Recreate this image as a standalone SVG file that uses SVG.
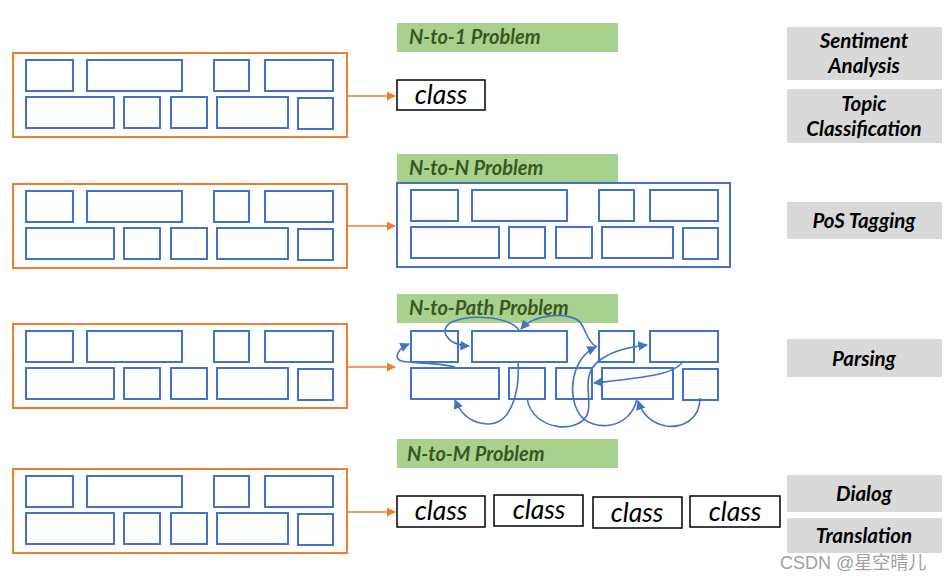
<svg xmlns="http://www.w3.org/2000/svg" xmlns:xlink="http://www.w3.org/1999/xlink" width="947" height="580" viewBox="0 0 947 580">
<style>
.orange{fill:none;stroke:#ED7D31;stroke-width:2}
.blue{fill:none;stroke:#4472C4;stroke-width:2}
.tok{fill:#fff;stroke:#4472C4;stroke-width:2}
.green{fill:#A9D18E}
.gtxt{font-family:Lato,"Open Sans",sans-serif;font-weight:700;font-style:italic;font-size:20px;fill:#385723}
.gray{fill:#D9D9D9}
.task{font-family:Lato,"Open Sans",sans-serif;font-weight:700;font-style:italic;font-size:20.5px;fill:#000;text-anchor:middle}
.cls{fill:#fff;stroke:#000;stroke-width:1.5}
.ctxt{font-family:Lato,"Open Sans",sans-serif;font-style:italic;font-size:26.5px;fill:#000;text-anchor:middle}
.oarr{fill:none;stroke:#ED7D31;stroke-width:1.5;marker-end:url(#oh)}
.barr{fill:none;stroke:#4472C4;stroke-width:1.6;marker-end:url(#bh)}
.wm{font-family:"Liberation Sans","Noto Sans CJK SC",sans-serif;font-size:18px;fill:#a0a0a0}
</style>
<defs>
<marker id="oh" viewBox="0 0 10 10" refX="9" refY="5" markerWidth="6" markerHeight="6" markerUnits="strokeWidth" orient="auto"><path d="M0,0 L10,5 L0,10 z" fill="#ED7D31"/></marker>
<marker id="bh" viewBox="0 0 10 10" refX="9" refY="5" markerWidth="6" markerHeight="6" markerUnits="strokeWidth" orient="auto"><path d="M0,0 L10,5 L0,10 z" fill="#4472C4"/></marker>
<g id="toks">
<rect class="tok" x="26" y="60" width="47" height="31"/>
<rect class="tok" x="87" y="60" width="95" height="31"/>
<rect class="tok" x="214" y="60" width="35" height="31"/>
<rect class="tok" x="265" y="60" width="68" height="31"/>
<rect class="tok" x="26" y="97" width="88" height="31"/>
<rect class="tok" x="124" y="97" width="36" height="31"/>
<rect class="tok" x="171" y="97" width="36" height="31"/>
<rect class="tok" x="217" y="97" width="71" height="31"/>
<rect class="tok" x="298" y="98" width="35" height="31"/>
</g>
</defs>
<rect width="947" height="580" fill="#fff"/>

<g id="input1"><rect class="orange" x="13" y="53" width="334" height="84"/><use xlink:href="#toks"/></g>
<g id="input2" transform="translate(0,131)"><rect class="orange" x="13" y="53" width="334" height="84"/><use xlink:href="#toks"/></g>
<g id="input3" transform="translate(0,271)"><rect class="orange" x="13" y="53" width="334" height="84"/><use xlink:href="#toks"/></g>
<g id="input4" transform="translate(0,416)"><rect class="orange" x="13" y="53" width="334" height="84"/><use xlink:href="#toks"/></g>

<g id="label-n1"><rect class="green" x="397" y="23" width="221" height="29"/><text class="gtxt" x="409" y="44">N-to-1 Problem</text></g>
<g id="label-nn"><rect class="green" x="397" y="154" width="221" height="29"/><text class="gtxt" x="409" y="175">N-to-N Problem</text></g>
<g id="label-np"><rect class="green" x="397" y="294" width="221" height="29"/><text class="gtxt" x="409" y="315">N-to-Path Problem</text></g>
<g id="label-nm"><rect class="green" x="397" y="439" width="221" height="29"/><text class="gtxt" x="407" y="461">N-to-M Problem</text></g>

<g id="out1"><rect class="cls" x="397" y="80" width="88" height="30"/><text class="ctxt" x="441" y="104">class</text></g>

<g id="out2"><rect class="blue" x="397" y="183" width="333" height="84"/><use xlink:href="#toks" transform="translate(385,130)"/></g>

<g id="out3"><use xlink:href="#toks" transform="translate(385,271)"/></g>

<g id="out4">
<rect class="cls" x="397" y="496" width="88" height="31"/><text class="ctxt" x="441" y="520">class</text>
<rect class="cls" x="494" y="495" width="89" height="31"/><text class="ctxt" x="539" y="519">class</text>
<rect class="cls" x="593" y="497" width="89" height="31"/><text class="ctxt" x="637" y="522">class</text>
<rect class="cls" x="690" y="496" width="90" height="31"/><text class="ctxt" x="735" y="521">class</text>
</g>

<g id="tasks">
<rect class="gray" x="787" y="27" width="155" height="53"/><text class="task" x="864" y="48">Sentiment</text><text class="task" x="864" y="73">Analysis</text>
<rect class="gray" x="787" y="89" width="155" height="54"/><text class="task" x="864" y="111">Topic</text><text class="task" x="864" y="136">Classification</text>
<rect class="gray" x="787" y="202" width="155" height="37"/><text class="task" x="864" y="228">PoS Tagging</text>
<rect class="gray" x="787" y="339" width="155" height="38"/><text class="task" x="864" y="366">Parsing</text>
<rect class="gray" x="787" y="475" width="155" height="37"/><text class="task" x="864" y="501">Dialog</text>
<rect class="gray" x="787" y="518" width="155" height="35"/><text class="task" x="864" y="543">Translation</text>
</g>

<g id="connectors">
<path class="oarr" d="M347,96 H395"/>
<path class="oarr" d="M347,226 H395"/>
<path class="oarr" d="M347,367 H395"/>
<path class="oarr" d="M347,512 H395"/>
<path class="barr" d="M455,367 C425,360 396,366 397,356 C398,350 402,347 409,344"/>
<path class="barr" d="M519,330 C508,316 470,314 452,322 C438,329 446,345 469,346"/>
<path class="barr" d="M597,347 C588,343 586,330 580,322 C570,312 535,313 521,329"/>
<path class="barr" d="M637,399 C630,430 593,432 580,415 C566,395 572,358 596,347"/>
<path class="barr" d="M527,398 C532,432 582,435 588,412 C592,395 580,375 600,360 C614,350 630,347 647,345"/>
<path class="barr" d="M683,361 C676,375 640,378 594,383"/>
<path class="barr" d="M518,361 C520,390 512,425 487,424 C470,423 460,412 455,400"/>
<path class="barr" d="M700,398 C700,420 682,428 666,426 C650,423 642,413 638,401"/>
</g>

<text class="wm" x="780" y="569">CSDN @星空晴儿</text>
</svg>
